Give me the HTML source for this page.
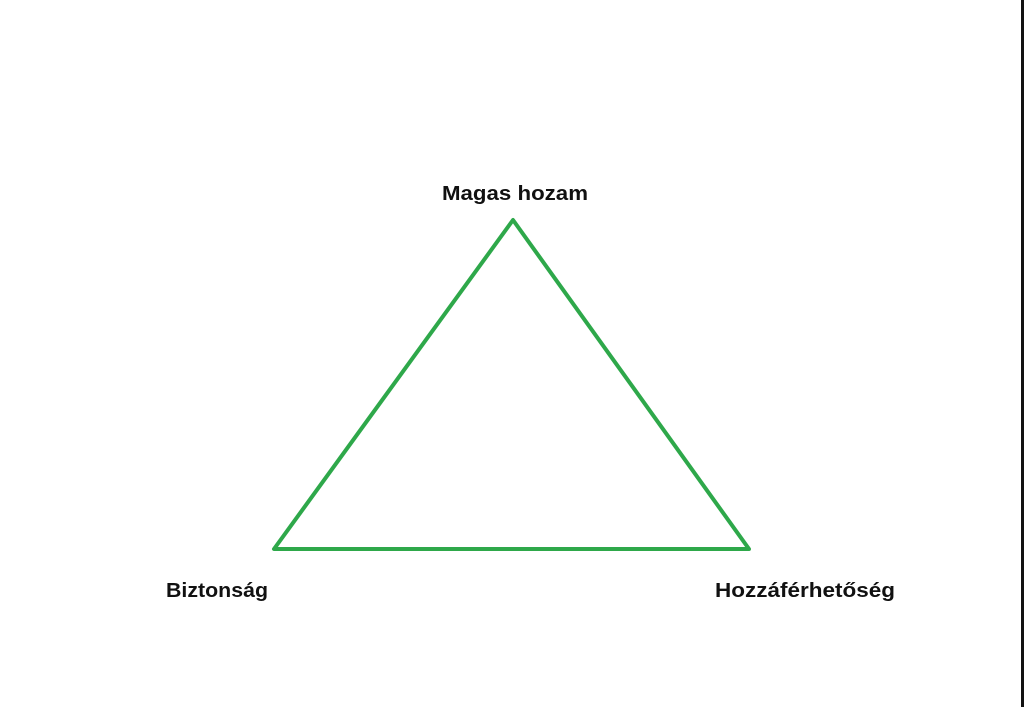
<!DOCTYPE html>
<html><head><style>html,body{margin:0;padding:0;background:#fff;}</style></head>
<body>
<svg width="1024" height="707" xmlns="http://www.w3.org/2000/svg" style="display:block">
<rect x="0" y="0" width="1024" height="707" fill="#fff"/>
<rect x="1021" y="0" width="3" height="707" fill="#111"/>
<polygon points="513,220 274,549 749,549" fill="none" stroke="#2ea84a" stroke-width="4" stroke-linejoin="round"/>
<g font-family="Liberation Sans, sans-serif" font-weight="bold" font-size="20" fill="#111">
<text x="442" y="200" textLength="146" lengthAdjust="spacingAndGlyphs">Magas hozam</text>
<text x="166" y="597" textLength="102" lengthAdjust="spacingAndGlyphs">Biztonság</text>
<text x="715" y="597" textLength="180" lengthAdjust="spacingAndGlyphs">Hozzáférhetőség</text>
</g>
</svg>
</body></html>
